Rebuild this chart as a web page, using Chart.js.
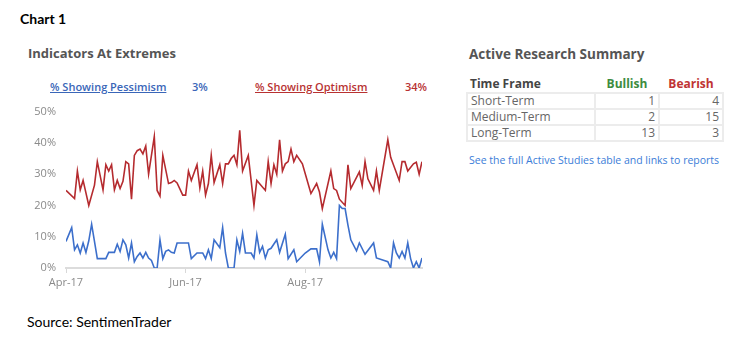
<!DOCTYPE html>
<html>
<head>
<meta charset="utf-8">
<script src="https://cdn.jsdelivr.net/npm/chart.js@4"></script>
<style>
  html, body { margin:0; padding:0; background:#fff; }
  body { width:750px; height:348px; position:relative; overflow:hidden; font-family:"Open Sans", sans-serif; }
  .abs { position:absolute; white-space:nowrap; }
  #chart1 { left:20px; top:10px; font-family:Lato, sans-serif; font-weight:bold; font-size:14px; color:#000; }
  #title { left:28px; top:44px; font-weight:bold; font-size:13px; color:#555; }
  .leg { top:79px; font-size:11px; font-weight:600; }
  #legP { left:50px; color:#3a66b8; text-decoration:underline; }
  #legPv { left:192px; color:#3a66b8; }
  #legO { left:255px; color:#b83232; text-decoration:underline; }
  #legOv { left:405px; color:#b83232; }
  #source { left:27px; top:313px; font-family:Lato, sans-serif; font-size:14px; color:#000; }
  #wrap { position:absolute; left:20px; top:95px; width:420px; height:203px; }
  #rtitle { left:469px; top:45px; font-weight:bold; font-size:13.5px; color:#555; }
  table { position:absolute; left:466px; top:75px; border-collapse:collapse; font-size:12px; }
  th { font-weight:bold; height:16px; padding:0 3px; }
  td { border:2px solid #ececec; height:12px; line-height:12px; padding:1px 3px; color:#666; }
  #link { left:469px; top:153px; font-size:10.5px; color:#3b7dd8; }
</style>
</head>
<body>
<div class="abs" id="chart1">Chart 1</div>
<div class="abs" id="title">Indicators At Extremes</div>
<div class="abs leg" id="legP">% Showing Pessimism</div>
<div class="abs leg" id="legPv">3%</div>
<div class="abs leg" id="legO">% Showing Optimism</div>
<div class="abs leg" id="legOv">34%</div>
<div id="wrap"><canvas id="c"></canvas></div>
<div class="abs" id="source">Source: SentimenTrader</div>

<div class="abs" id="rtitle">Active Research Summary</div>
<table id="tbl">
  <thead><tr>
    <th style="text-align:left;width:122px;color:#444">Time Frame</th>
    <th style="text-align:center;width:58px;color:#3d8c40">Bullish</th>
    <th style="text-align:center;width:58px;color:#c03434">Bearish</th>
  </tr></thead>
  <tbody id="tb"></tbody>
</table>
<div class="abs" id="link">See the full Active Studies table and links to reports</div>

<script>
// ---- data (trading-day index from 3 Apr 2017, value in %) ----
const optX = [0,3,4,5,6,8,10,11,13,14,15,16,17,18,19,20,21,22,23,24,25,26,27,28,29,31,32,33,34,36,37,38,39,41,42,43,44,46,47,48,49,50,51,52,54,55,56,57,58,59,60,61,62,64,66,67,70,71,72,73,74,75,76,77,78,79,80,81,83,86,88,89,90,93,94,95,96,98,99,100,103,104,105,106,108,109,110,113,114,117,118,119,120,122,123,124,125];
const optY = [24.8,22.2,31,25,28,20,26.5,34,25,33,31,33,25,28,25.4,27.7,34,33.3,22,36,37.5,38,36.5,39,30,42,24.8,23,36,27,27.3,28,27.2,23.3,23.3,31,28,33,25.6,31,23.3,27,36,27.3,33,27,33.3,33.3,35,36,33,44,31,36,20,28,24.8,34,27,33,30,41,31,33.3,34,38,34,36,33.3,23.8,27,24.3,19,31,25.4,24.8,22,20,33,25.4,30.7,26.4,34,28.5,24.8,31,24.8,41,35.4,28,34,34,31,33.3,33.8,30,34];
const pessX = [0,2,3,4,5,6,7,8,9,11,14,15,17,18,19,20,21,22,23,24,25,26,27,28,29,30,31,32,33,34,35,36,37,38,39,43,44,46,48,49,50,51,52,54,55,56,57,59,60,61,62,63,65,66,67,68,69,70,71,72,74,75,77,78,80,81,84,86,88,89,90,92,93,94,95,96,97,98,99,100,102,103,105,108,109,113,114,115,116,117,118,119,120,121,122,123,124,125];
const pessY = [8.5,12.9,5.8,7.4,4.8,8,5,8.7,14,3,3,5,5,7.6,5.3,9,7.4,3.2,8,2,3.7,4.8,3.2,5,3.2,2.4,0,0,9,3,5.3,5.8,5,4.8,8,8,3,4.8,4.8,3,5.8,3,9,6.5,12.9,4.8,0,0,9,5.3,11.1,4.8,4.8,3.2,10.6,5,6.9,3.2,5.8,6.3,9,5,10.8,3,5.8,2,4.8,6.1,6.1,2,14,5.8,3.2,5,3,20,19,19,13.7,9,5.5,8,4.4,8,3.2,2,0,8,4.8,3.2,5.3,3.2,8,3,0,2,0,3.2];
const tickPos = [0, 42, 84];
const tickLabels = ['Apr-17', 'Jun-17', 'Aug-17'];
const yTicks = [0, 10, 20, 30, 40, 50];

// ---- summary table ----
const frames = ['Short-Term', 'Medium-Term', 'Long-Term'];
const bullish = [1, 2, 13];
const bearish = [4, 15, 3];
const tb = document.getElementById('tb');
frames.forEach((f, i) => {
  const tr = document.createElement('tr');
  tr.innerHTML = '<td>' + f + '</td><td style="text-align:right">' + bullish[i] +
                 '</td><td style="text-align:right">' + bearish[i] + '</td>';
  tb.appendChild(tr);
});

const toPts = (xs, ys) => xs.map((x, i) => ({ x: x, y: ys[i] }));

new Chart(document.getElementById('c'), {
  type: 'line',
  data: {
    datasets: [
      { label: '% Showing Optimism', data: toPts(optX, optY), borderColor: '#b52b2f', borderWidth: 1.6, pointRadius: 0, tension: 0 },
      { label: '% Showing Pessimism', data: toPts(pessX, pessY), borderColor: '#3c6fcb', borderWidth: 1.6, pointRadius: 0, tension: 0 }
    ]
  },
  options: {
    responsive: true, maintainAspectRatio: false, animation: false,
    layout: { padding: { top: 8.5, right: 18, left: 0, bottom: 0 } },
    plugins: { legend: { display: false }, tooltip: { enabled: false } },
    scales: {
      x: {
        type: 'linear', min: 0, max: 125,
        afterBuildTicks: s => { s.ticks = tickPos.map(v => ({ value: v })); },
        ticks: { callback: v => tickLabels[tickPos.indexOf(v)], color: '#8a8a8a', font: { family: 'Open Sans', size: 11 }, maxRotation: 0, padding: 3 },
        grid: { drawOnChartArea: false, drawTicks: true, tickLength: 5, color: '#d8d8d8', lineWidth: 1 },
        border: { color: '#dcdcdc', width: 2 },
        afterFit: s => { s.height = 30; }
      },
      y: {
        min: 0, max: 50,
        afterBuildTicks: s => { s.ticks = yTicks.map(v => ({ value: v })); },
        ticks: { callback: v => v + '%', color: '#8a8a8a', font: { family: 'Open Sans', size: 11 }, padding: 10 },
        grid: { display: false, drawTicks: false },
        border: { display: false },
        afterFit: s => { s.width = 46; }
      }
    }
  }
});
</script>
</body>
</html>
